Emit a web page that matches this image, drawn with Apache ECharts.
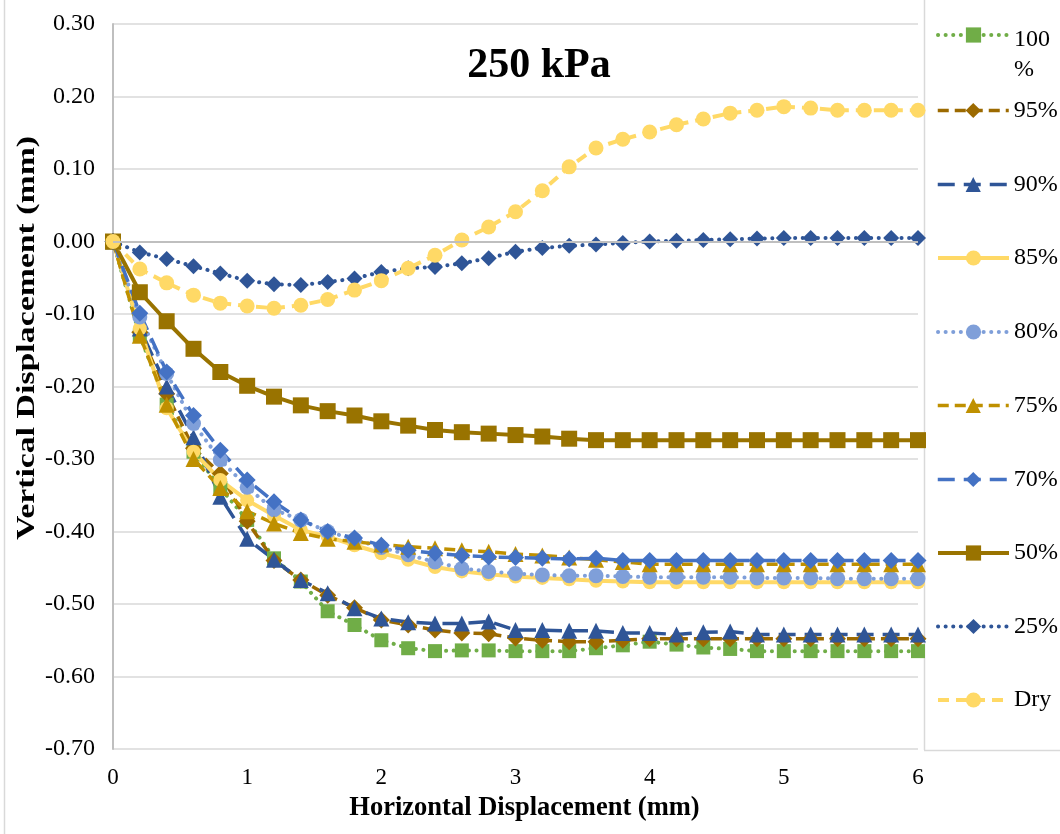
<!DOCTYPE html>
<html>
<head>
<meta charset="utf-8">
<script src="https://cdn.jsdelivr.net/npm/echarts@6/dist/echarts.min.js"></script>
<style>
  html, body { margin: 0; padding: 0; background: #ffffff; }
  #chart { width: 1060px; height: 834px; }
</style>
</head>
<body>
<div id="chart"></div>
<script>
// Horizontal displacement readings (mm)
const xs = [0, 0.2, 0.4, 0.6, 0.8, 1.0, 1.2, 1.4, 1.6, 1.8, 2.0, 2.2, 2.4, 2.6, 2.8, 3.0,
            3.2, 3.4, 3.6, 3.8, 4.0, 4.2, 4.4, 4.6, 4.8, 5.0, 5.2, 5.4, 5.6, 5.8, 6.0];

// Vertical displacement (mm) for each saturation level, 250 kPa normal stress
const sat100 = [0, -0.130, -0.225, -0.290, -0.340, -0.384, -0.437, -0.469, -0.510, -0.529, -0.550,
                -0.561, -0.565, -0.564, -0.564, -0.565, -0.565, -0.565, -0.561, -0.557, -0.552,
                -0.556, -0.560, -0.562, -0.565, -0.565, -0.565, -0.565, -0.565, -0.565, -0.565];
const sat95  = [0, -0.125, -0.210, -0.285, -0.320, -0.386, -0.440, -0.467, -0.488, -0.505, -0.522,
                -0.529, -0.536, -0.540, -0.541, -0.547, -0.550, -0.552, -0.552, -0.550, -0.548,
                -0.548, -0.548, -0.548, -0.548, -0.548, -0.548, -0.548, -0.548, -0.548, -0.548];
const sat90  = [0, -0.120, -0.200, -0.270, -0.352, -0.410, -0.439, -0.467, -0.485, -0.506, -0.520,
                -0.525, -0.527, -0.527, -0.524, -0.536, -0.536, -0.537, -0.537, -0.540, -0.540,
                -0.542, -0.539, -0.538, -0.542, -0.542, -0.542, -0.542, -0.542, -0.542, -0.542];
const sat85  = [0, -0.120, -0.230, -0.290, -0.329, -0.357, -0.378, -0.398, -0.407, -0.419, -0.430,
                -0.439, -0.449, -0.455, -0.459, -0.462, -0.464, -0.466, -0.468, -0.469, -0.470,
                -0.470, -0.470, -0.470, -0.470, -0.470, -0.470, -0.470, -0.470, -0.470, -0.470];
const sat80  = [0, -0.104, -0.182, -0.251, -0.301, -0.339, -0.370, -0.384, -0.400, -0.411, -0.422,
                -0.432, -0.442, -0.451, -0.455, -0.458, -0.460, -0.461, -0.461, -0.462, -0.463,
                -0.463, -0.463, -0.463, -0.464, -0.464, -0.464, -0.465, -0.465, -0.465, -0.465];
const sat75  = [0, -0.130, -0.225, -0.300, -0.340, -0.372, -0.389, -0.402, -0.410, -0.414, -0.418,
                -0.421, -0.423, -0.426, -0.428, -0.431, -0.433, -0.436, -0.439, -0.442, -0.445,
                -0.445, -0.445, -0.445, -0.445, -0.445, -0.445, -0.445, -0.445, -0.445, -0.445];
const sat70  = [0, -0.099, -0.180, -0.240, -0.288, -0.329, -0.359, -0.384, -0.400, -0.409, -0.419,
                -0.426, -0.430, -0.433, -0.435, -0.436, -0.437, -0.438, -0.437, -0.440, -0.440,
                -0.440, -0.440, -0.440, -0.440, -0.440, -0.440, -0.440, -0.440, -0.440, -0.440];
const sat50  = [0, -0.070, -0.110, -0.148, -0.180, -0.199, -0.214, -0.226, -0.234, -0.240, -0.248,
                -0.254, -0.260, -0.263, -0.265, -0.267, -0.269, -0.272, -0.274, -0.274, -0.274,
                -0.274, -0.274, -0.274, -0.274, -0.274, -0.274, -0.274, -0.274, -0.274, -0.274];
const sat25  = [0, -0.015, -0.024, -0.034, -0.044, -0.054, -0.059, -0.060, -0.056, -0.051, -0.042,
                -0.037, -0.035, -0.030, -0.023, -0.014, -0.009, -0.006, -0.004, -0.002, 0.000,
                0.001, 0.002, 0.003, 0.004, 0.005, 0.005, 0.005, 0.005, 0.005, 0.005];
const satDry = [0, -0.038, -0.057, -0.074, -0.085, -0.089, -0.092, -0.088, -0.080, -0.067, -0.054,
                -0.037, -0.019, 0.002, 0.020, 0.041, 0.070, 0.103, 0.129, 0.141, 0.151,
                0.161, 0.169, 0.177, 0.181, 0.186, 0.184, 0.181, 0.181, 0.181, 0.181];

const seriesNames = ['100%', '95%', '90%', '85%', '80%', '75%', '70%', '50%', '25%', 'Dry'];
const seriesValues = [sat100, sat95, sat90, sat85, sat80, sat75, sat70, sat50, sat25, satDry];

const xTicks = { min: 0, max: 6, step: 1 };
const yTicks = { min: -0.7, max: 0.3, step: 0.1 };

// Line / marker appearance per series
const DOT = [0.1, 7.5];
const DASH = [11, 6];
const LONGDASH = [17, 9];
const looks = {
  '100%': { color: '#70AD47', symbol: 'rect',     size: 14, dash: DOT,      width: 4,   cap: 'round' },
  '95%':  { color: '#9C6A00', symbol: 'diamond',  size: 17, dash: DASH,     width: 3.5, cap: 'butt' },
  '90%':  { color: '#2F5597', symbol: 'triangle', size: 16, dash: LONGDASH, width: 3.5, cap: 'butt' },
  '85%':  { color: '#FFD966', symbol: 'circle',   size: 14, dash: 'solid',  width: 4,   cap: 'butt' },
  '80%':  { color: '#7F9FD9', symbol: 'circle',   size: 15, dash: DOT,      width: 4,   cap: 'round' },
  '75%':  { color: '#BF9000', symbol: 'triangle', size: 16, dash: DASH,     width: 3.5, cap: 'butt' },
  '70%':  { color: '#4472C4', symbol: 'diamond',  size: 17, dash: LONGDASH, width: 3.5, cap: 'butt' },
  '50%':  { color: '#997300', symbol: 'rect',     size: 16, dash: 'solid',  width: 4,   cap: 'butt' },
  '25%':  { color: '#2F5597', symbol: 'diamond',  size: 16, dash: DOT,      width: 4,   cap: 'round' },
  'Dry':  { color: '#FFD966', symbol: 'circle',   size: 15, dash: [11, 7],  width: 4,   cap: 'butt' }
};

const FONT = '"Liberation Serif", "Times New Roman", serif';

const series = seriesNames.map((name, i) => {
  const lk = looks[name];
  const s = {
    name: name,
    type: 'line',
    data: xs.map((x, j) => [x, seriesValues[i][j]]),
    symbol: lk.symbol,
    symbolSize: lk.size,
    showAllSymbol: true,
    animation: false,
    lineStyle: { color: lk.color, width: lk.width, type: lk.dash, cap: lk.cap },
    itemStyle: { color: lk.color, borderWidth: 0 },
    emphasis: { disabled: true }
  };
  if (i === 0) {
    // horizontal axis line crossing at zero
    s.markLine = {
      silent: true,
      symbol: 'none',
      label: { show: false },
      animation: false,
      lineStyle: { color: '#BFBFBF', width: 2, type: 'solid' },
      data: [{ yAxis: 0 }]
    };
  }
  return s;
});

// one legend block per entry, stacked down the right-hand panel
const legendCentres = [35, 110.5, 184.5, 258, 332, 405.5, 479.5, 553, 626.5, 700];
const legends = seriesNames.map((name, i) => {
  const lk = looks[name];
  const multi = name === '100%';
  return {
    data: [name],
    orient: 'vertical',
    left: 936,
    top: multi ? legendCentres[i] - 50 : legendCentres[i] - 15,
    padding: 0,
    itemWidth: 71,
    itemHeight: 19,
    selectedMode: false,
    lineStyle: { width: lk.width },
    formatter: multi ? '{t| }\n{n|100}\n{n|%}' : '{name}',
    textStyle: {
      fontFamily: FONT, fontSize: 24, color: '#000', lineHeight: 30,
      rich: {
        t: { fontFamily: FONT, fontSize: 24, lineHeight: 40 },
        n: { fontFamily: FONT, fontSize: 24, lineHeight: 30, color: '#000' }
      }
    }
  };
});

const chart = echarts.init(document.getElementById('chart'), null, { renderer: 'canvas' });
chart.setOption({
  backgroundColor: '#ffffff',
  animation: false,
  grid: { left: 113, right: 142, top: 24, bottom: 85, containLabel: false },
  legend: legends,
  xAxis: {
    type: 'value',
    min: xTicks.min, max: xTicks.max, interval: xTicks.step,
    name: 'Horizontal Displacement (mm)',
    nameLocation: 'middle',
    nameGap: 46,
    nameTextStyle: {
      fontFamily: FONT, fontSize: 26.5, fontWeight: 'bold', color: '#000',
      padding: [0, 0, 0, 18]
    },
    axisLine: { show: false },
    axisTick: { show: false },
    splitLine: { show: false },
    axisLabel: { fontFamily: FONT, fontSize: 23, color: '#000', margin: 17 }
  },
  yAxis: {
    type: 'value',
    min: yTicks.min, max: yTicks.max, interval: yTicks.step,
    axisLine: { show: true, lineStyle: { color: '#BFBFBF', width: 2 } },
    axisTick: { show: false },
    splitLine: { show: true, lineStyle: { color: '#D9D9D9', width: 1.5 } },
    axisLabel: {
      fontFamily: FONT, fontSize: 24, color: '#000', margin: 18,
      formatter: v => v.toFixed(2)
    }
  },
  graphic: [
    {
      type: 'text', x: 539, y: 66, silent: true,
      style: {
        text: '250 kPa', align: 'center', verticalAlign: 'middle',
        font: 'bold 42px ' + FONT, fill: '#000'
      }
    },
    {
      // vertical axis title, drawn upright along the left edge
      type: 'text', x: 27, y: 338, rotation: Math.PI / 2, scaleX: 1.3, silent: true,
      style: {
        text: 'Vertical Displacement (mm)', align: 'center', verticalAlign: 'middle',
        font: 'bold 26px ' + FONT, fill: '#000'
      }
    },
    {
      type: 'line', silent: true,
      shape: { x1: 924.5, y1: 0, x2: 924.5, y2: 750 },
      style: { stroke: '#D9D9D9', lineWidth: 1.5 }
    },
    {
      type: 'line', silent: true,
      shape: { x1: 924, y1: 750.5, x2: 1060, y2: 750.5 },
      style: { stroke: '#D9D9D9', lineWidth: 1.5 }
    },
    {
      type: 'line', silent: true,
      shape: { x1: 4.5, y1: 0, x2: 4.5, y2: 834 },
      style: { stroke: '#D9D9D9', lineWidth: 1.5 }
    }
  ],
  series: series
});
</script>
</body>
</html>
